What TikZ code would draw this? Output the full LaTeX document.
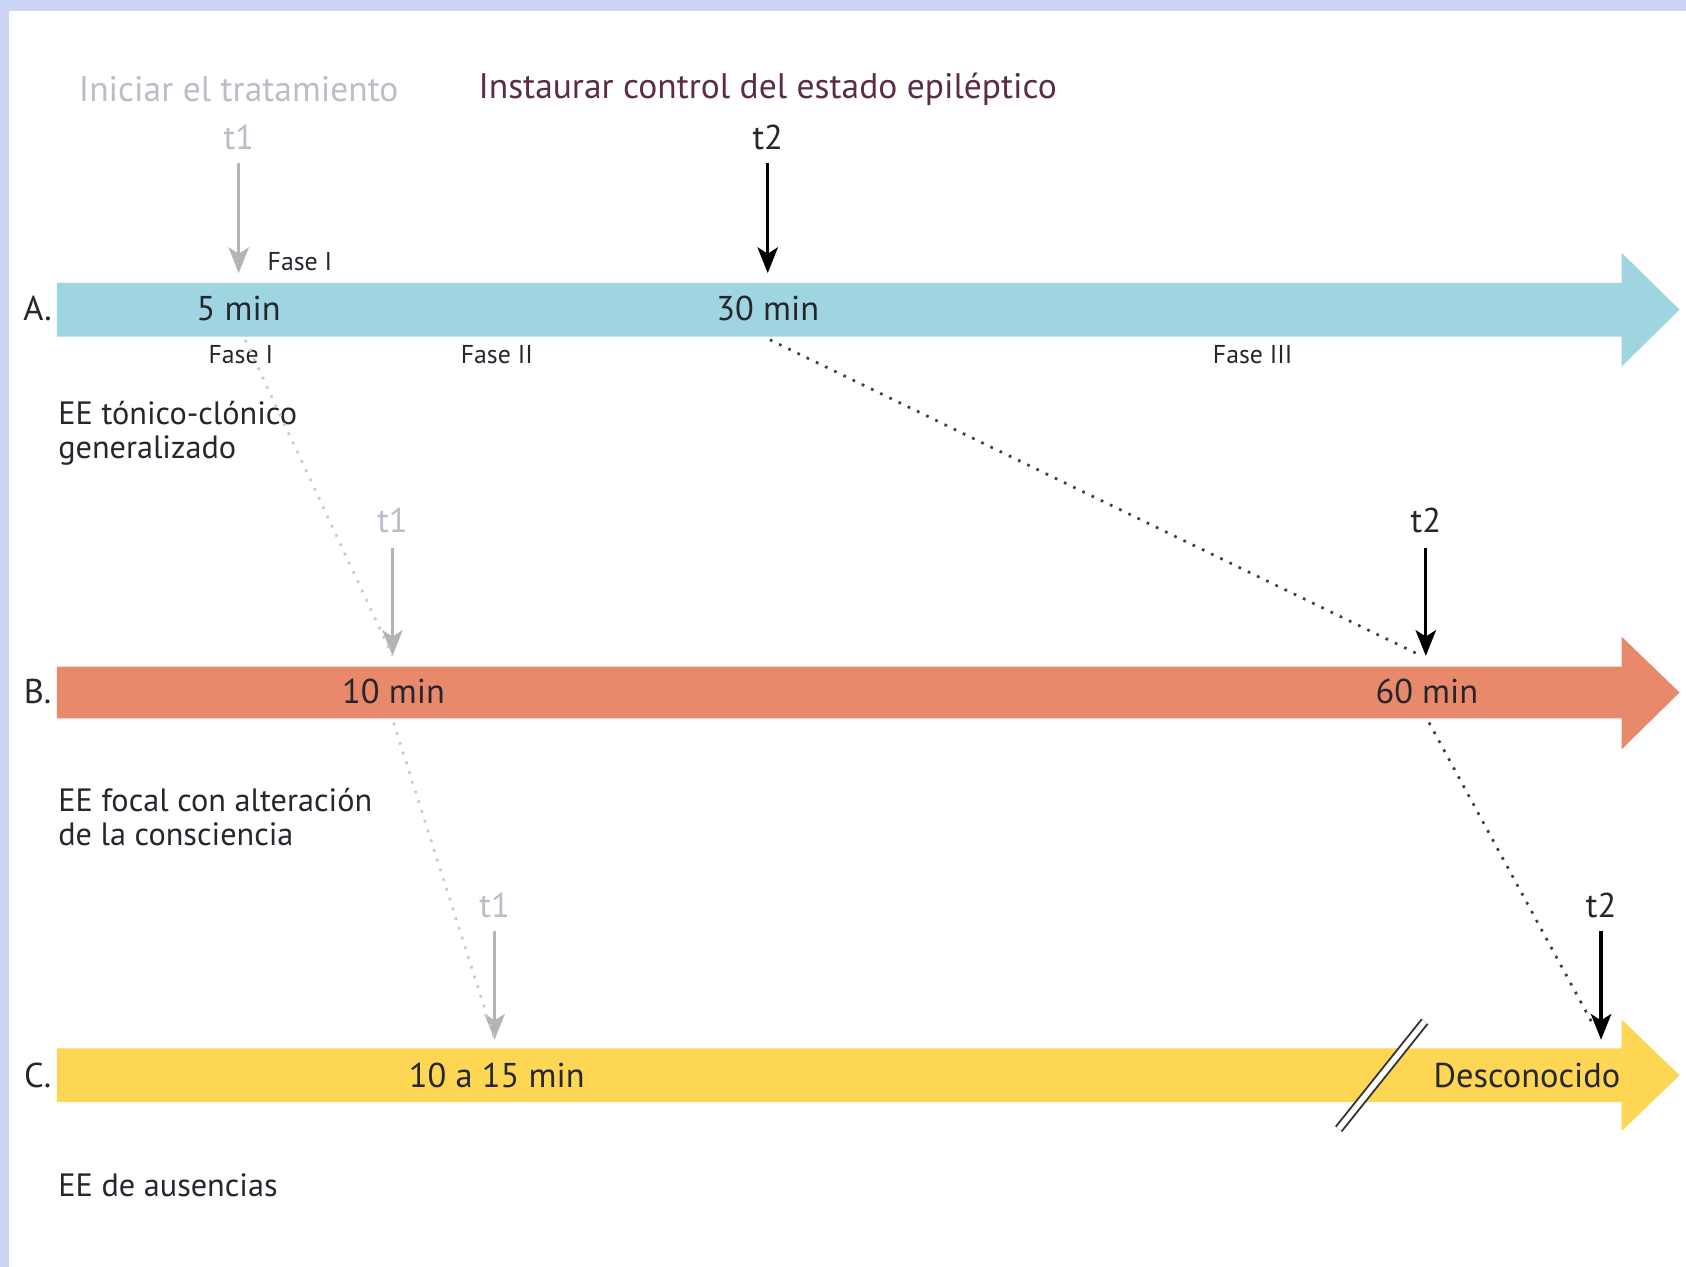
\documentclass[tikz,border=0pt]{standalone}
\usepackage{fontspec}
\setmainfont{PT Sans}
\usetikzlibrary{arrows.meta,positioning}

\definecolor{barA}{HTML}{9FD5E0}
\definecolor{barB}{HTML}{E8896C}
\definecolor{barC}{HTML}{FDD654}
\definecolor{framecol}{HTML}{CAD6F4}
\definecolor{lightgray}{HTML}{B4B4B8}
\definecolor{softtext}{HTML}{BDBCC8}
\definecolor{headtext}{HTML}{5A2C48}
\definecolor{darktext}{HTML}{26262F}

\begin{document}
\begin{tikzpicture}[x=1pt,y=-1pt,>={Stealth[length=24pt,width=19pt,inset=6pt]},
                    line width=2.5pt]
  \tikzstyle{every node}=[font=\fontsize{32}{36}\selectfont,inner sep=0pt,text=darktext]
  \tikzstyle{head}=[font=\fontsize{33}{37}\selectfont]
  \tikzstyle{fase}=[font=\fontsize{24}{27}\selectfont]
  \tikzstyle{desc}=[anchor=west,align=left,font=\fontsize{30}{31}\selectfont]
  \tikzstyle{soft}=[text=softtext]
  \tikzstyle{t1arrow}=[->,draw=lightgray,line width=2.5pt]
  \tikzstyle{t2arrow}=[->,draw=black,line width=3pt]
  \tikzstyle{softdots}=[draw=lightgray!70,line width=2.5pt,dash pattern=on 2.5pt off 7pt]
  \tikzstyle{harddots}=[draw=black!75,line width=2.5pt,dash pattern=on 2.5pt off 7pt]
\useasboundingbox (0,0) rectangle (1568,1178);
\fill[white] (0,0) rectangle (1568,1178);
\fill[framecol] (0,0) rectangle (1568,10);
\fill[framecol] (0,0) rectangle (8,1178);

% bars
\fill[barA] (53,263) -- (1508,263) -- (1508,235) -- (1562,288) -- (1508,341) -- (1508,313) -- (53,313) -- cycle;
\fill[barB] (53,620) -- (1508,620) -- (1508,592) -- (1562,644) -- (1508,697) -- (1508,668) -- (53,668) -- cycle;
\fill[barC] (53,975) -- (1508,975) -- (1508,948) -- (1562,1000) -- (1508,1052) -- (1508,1025) -- (53,1025) -- cycle;

% headings
\node [head,soft] (ini) at (222,83) {Iniciar el tratamiento};
\node [head,text=headtext] (ins) at (714,83) {Instaurar control del estado epiléptico};

% A
\node (labA) at (35,287) {A.};
\node (a5) at (222,287) {5 min};
\node (a30) at (714,287) {30 min};
\node [soft] (a1) at (222,128) {t1};
\node (a2) at (714,128) {t2};
\coordinate (a1e) at (222,254);
\coordinate (a2e) at (714,254);
\node [fase] (faseup) at (279,243) {Fase I};
\node [fase] (fase1) at (224,330) {Fase I};
\node [fase] (fase2) at (462,330) {Fase II};
\node [fase] (fase3) at (1165,330) {Fase III};
\node [desc] (descA) at (53,403) {EE tónico-clónico\\generalizado};

% B
\node (labB) at (35,643) {B.};
\node (b10) at (366,643) {10 min};
\node (b60) at (1327,643) {60 min};
\node [soft] (b1) at (365,484) {t1};
\node (b2) at (1326,484) {t2};
\coordinate (b1e) at (365,610);
\coordinate (b2e) at (1326,610);
\node [desc] (descB) at (53,760) {EE focal con alteración\\de la consciencia};

% C
\node (labC) at (35,1000) {C.};
\node (c10) at (462,1000) {10 a 15 min};
\node (cdes) at (1420,1000) {Desconocido};
\node [soft] (c1) at (460,842) {t1};
\node (c2) at (1489,842) {t2};
\coordinate (c1e) at (460,967);
\coordinate (c2e) at (1489,967);
\node [desc] (descC) at (53,1102) {EE de ausencias};

% arrows
\draw[t1arrow] (a1) ++(0,24) -- (a1e);
\draw[t2arrow] (a2) ++(0,24) -- (a2e);
\draw[t1arrow] (b1) ++(0,26) -- (b1e);
\draw[t2arrow] (b2) ++(0,26) -- (b2e);
\draw[t1arrow] (c1) ++(0,24) -- (c1e);
\draw[t2arrow] (c2) ++(0,24) -- (c2e);

% links between rows
\draw[softdots] (228,316) -- (b1e);
\draw[harddots] (716,316) -- (1318,608);
\draw[softdots] (366,672) -- (c1e);
\draw[harddots] (1329,672) -- (1480,950);

% break mark
\draw[black!80,line width=1.8pt,double=white,double distance=5pt] (1245,1050) -- (1325,950);
\end{tikzpicture}
\end{document}
